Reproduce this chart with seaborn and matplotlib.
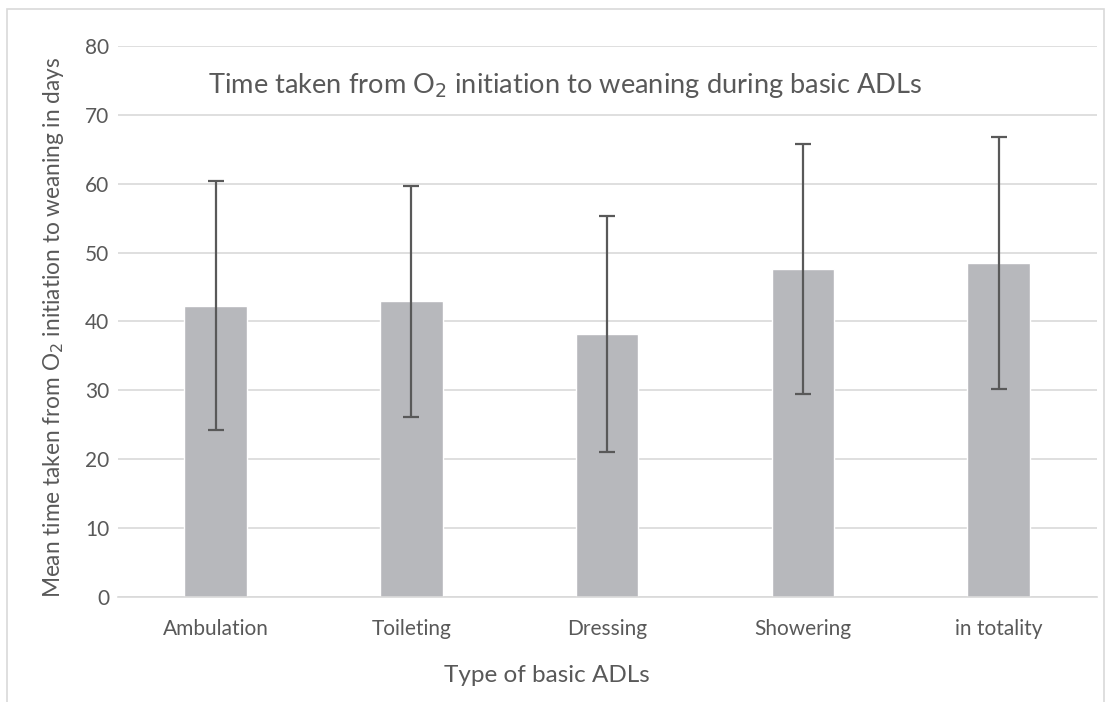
import matplotlib
matplotlib.use("Agg")
import matplotlib.pyplot as plt
import seaborn as sns
import pandas as pd
from matplotlib.patches import Rectangle

# Valeurs
categories = ["Ambulation", "Toileting", "Dressing", "Showering", "in totality"]
mean_days = [42.3, 42.9, 38.2, 47.6, 48.5]
sd_days = [18.1, 16.7, 17.1, 18.2, 18.3]
y_ticks = [0, 10, 20, 30, 40, 50, 60, 70, 80]

df = pd.DataFrame({"adl": categories, "mean": mean_days, "sd": sd_days})

sns.set_theme(style="white")
plt.rcParams["font.family"] = ["Lato", "DejaVu Sans"]

text_col = "#595959"
grid_col = "#d9d9d9"

fig = plt.figure(figsize=(11.11, 7.02), dpi=100)
ax = fig.add_axes([0.106, 0.1496, 0.881, 0.785])

sns.barplot(data=df, x="adl", y="mean", color="#b7b8bc", saturation=1,
            width=0.32, errorbar=None, ax=ax, zorder=2)
ax.errorbar(range(len(categories)), df["mean"], yerr=df["sd"], fmt="none",
            ecolor="#595959", elinewidth=1.6, capsize=6, capthick=1.6, zorder=3)

ax.set_xlim(-0.5, len(categories) - 0.5)
ax.set_ylim(0, 80)
ax.set_yticks(y_ticks)
ax.yaxis.grid(True, color=grid_col, linewidth=1.2, zorder=0)
ax.set_axisbelow(True)
for s in ["top", "right", "left"]:
    ax.spines[s].set_visible(False)
ax.spines["bottom"].set_color(grid_col)
ax.spines["bottom"].set_linewidth(1.2)
ax.tick_params(axis="y", length=0, labelsize=15, colors=text_col, pad=6)
ax.tick_params(axis="x", length=0, labelsize=15, colors=text_col, pad=16)

ax.set_xlabel("Type of basic ADLs", fontsize=17.5, color=text_col)
ax.xaxis.set_label_coords(0.438, -0.123)
ax.set_ylabel("Mean time taken from O$_2$ initiation to weaning in days",
              fontsize=16.3, color=text_col)
ax.yaxis.set_label_coords(-0.053, 0.489)

fig.text(0.509, 0.878, "Time taken from O$_2$ initiation to weaning during basic ADLs",
         ha="center", va="center", fontsize=19.6, color=text_col)

# cadre du graphique
fig.patches.append(Rectangle((0.006, -0.01), 0.988, 0.997, transform=fig.transFigure,
                             fill=False, edgecolor="#d9d9d9", linewidth=1.2))

fig.savefig("out.png", dpi=100)
